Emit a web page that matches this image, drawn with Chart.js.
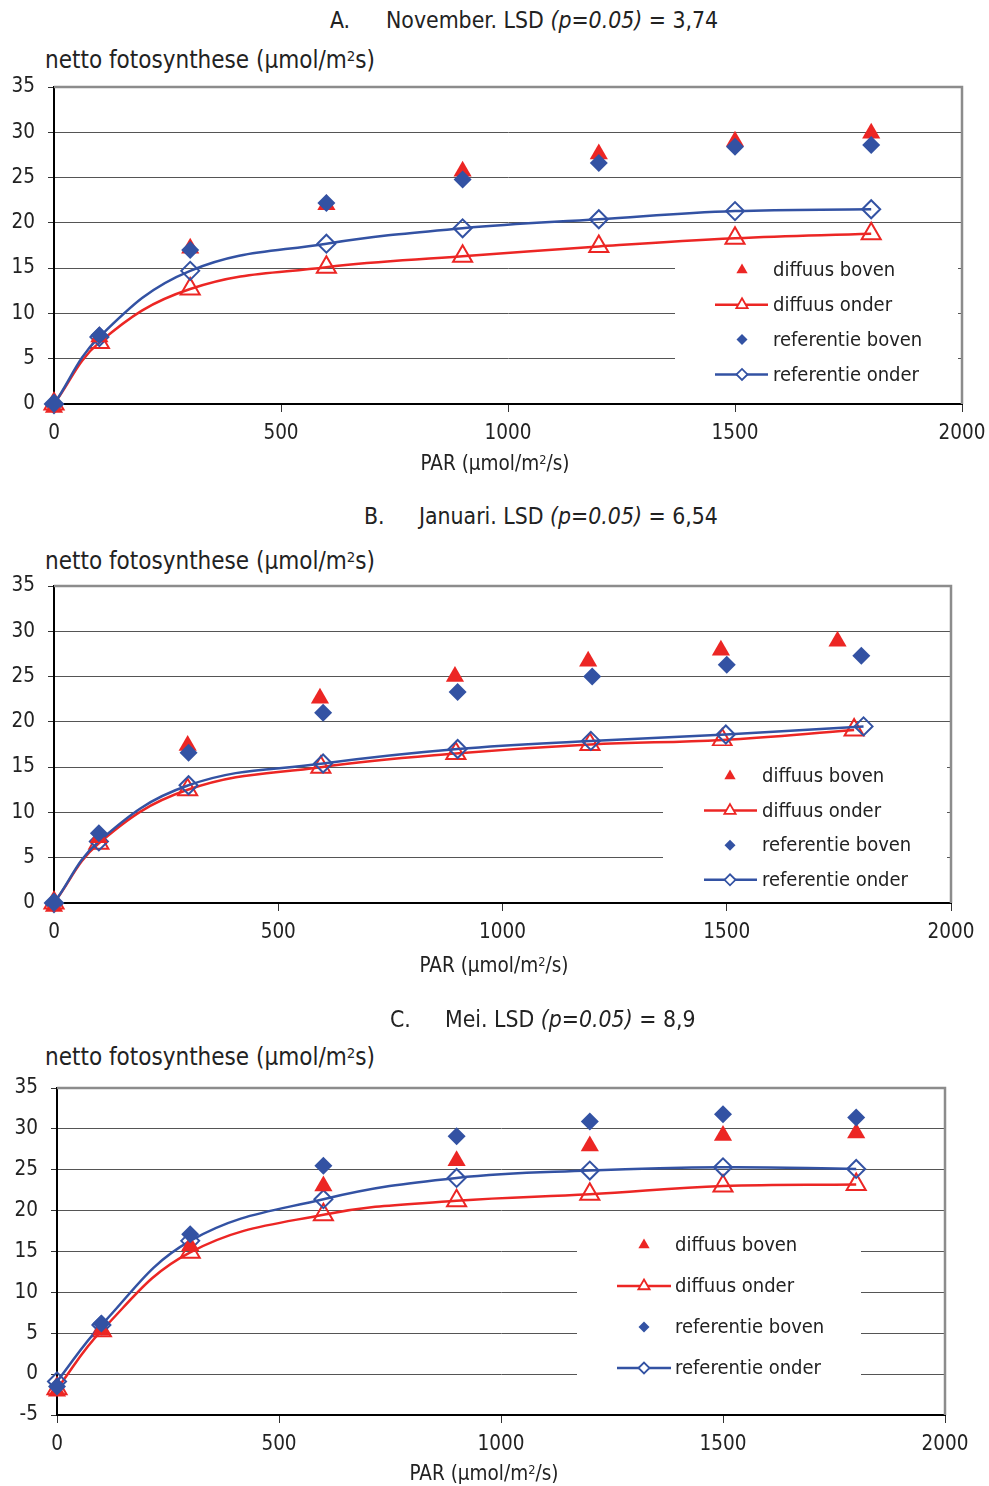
<!DOCTYPE html>
<html>
<head>
<meta charset="utf-8">
<script src="https://cdn.jsdelivr.net/npm/chart.js@4"></script>
<style>
  body { margin: 0; background: #fff; width: 989px; height: 1486px; position: relative; overflow: hidden;
         font-family: "DejaVu Sans Condensed", "DejaVu Sans", sans-serif; color: #222; }
  canvas { position: absolute; left: 0; }
  .t { position: absolute; white-space: nowrap; font-size: 22.8px; line-height: 24px; }
  .yl { position: absolute; white-space: nowrap; font-size: 24px; line-height: 26px; left: 45px; }
  .xl { position: absolute; white-space: nowrap; font-size: 20.5px; line-height: 24px; transform: translateX(-50%); }
  sup { font-size: 0.62em; vertical-align: 0.5em; line-height: 0; }
</style>
</head>
<body>

<div class="t" style="left:330px;top:8px">A.</div>
<div class="t" style="left:386px;top:8px">November. LSD <i>(p=0.05)</i> = 3,74</div>
<div class="yl" style="top:47px">netto fotosynthese (µmol/m<sup>2</sup>s)</div>
<canvas id="chartA" width="989" height="490" style="top:0"></canvas>
<div class="xl" style="left:495px;top:451px">PAR (µmol/m<sup>2</sup>/s)</div>

<div class="t" style="left:364px;top:504px">B.</div>
<div class="t" style="left:419px;top:504px">Januari. LSD <i>(p=0.05)</i> = 6,54</div>
<div class="yl" style="top:548px">netto fotosynthese (µmol/m<sup>2</sup>s)</div>
<canvas id="chartB" width="989" height="500" style="top:490px"></canvas>
<div class="xl" style="left:494px;top:953px">PAR (µmol/m<sup>2</sup>/s)</div>

<div class="t" style="left:390px;top:1007px">C.</div>
<div class="t" style="left:445px;top:1007px">Mei. LSD <i>(p=0.05)</i> = 8,9</div>
<div class="yl" style="top:1044px">netto fotosynthese (µmol/m<sup>2</sup>s)</div>
<canvas id="chartC" width="989" height="496" style="top:990px"></canvas>
<div class="xl" style="left:484px;top:1461px">PAR (µmol/m<sup>2</sup>/s)</div>

<script>
// PAR-niveaus (µmol/m2/s)
const parLevels = [0, 100, 300, 600, 900, 1200, 1500, 1800];

// A. November
const novDiffuusBoven = [-0.4, 7.4, 17.2, 22.0, 25.7, 27.6, 29.0, 29.9];
const novDiffuusOnder = [0, 6.8, 12.7, 15.1, 16.3, 17.4, 18.3, 18.8];
const novRefBoven = [0, 7.6, 17.0, 22.2, 24.8, 26.6, 28.4, 28.6];
const novRefOnder = [0, 7.4, 14.7, 17.7, 19.4, 20.4, 21.3, 21.5];

// B. Januari (gemeten PAR wijkt hier iets af per behandeling)
const janParDiffuusBoven = [0, 100, 298, 593, 894, 1191, 1487, 1747];
const janParDiffuusOnder = [0, 100, 298, 595, 896, 1195, 1490, 1784];
const janParRefOnder = [0, 100, 300, 600, 900, 1197, 1498, 1805];
const janDiffuusBoven = [-0.4, 7.2, 17.4, 22.6, 25.0, 26.7, 27.9, 28.9];
const janDiffuusOnder = [0, 6.6, 12.5, 15.0, 16.5, 17.5, 18.0, 19.1];
const janRefBoven = [0, 7.7, 16.6, 21.0, 23.3, 25.0, 26.3, 27.3];
const janRefOnder = [0, 6.8, 13.0, 15.4, 17.0, 17.9, 18.6, 19.5];

// C. Mei
const meiDiffuusBoven = [-2.1, 5.4, 15.7, 23.0, 26.1, 27.9, 29.2, 29.5];
const meiDiffuusOnder = [-1.8, 5.3, 14.9, 19.5, 21.2, 22.0, 23.0, 23.2];
const meiRefBoven = [-1.5, 6.2, 17.1, 25.5, 29.1, 30.9, 31.8, 31.4];
const meiRefOnder = [-0.9, 6.0, 16.3, 21.4, 24.0, 24.9, 25.3, 25.1];

const seriesLabels = ['diffuus boven', 'diffuus onder', 'referentie boven', 'referentie onder'];
const xTickStep = 500;
const yTickStep = 5;

const RED = 'rgb(236, 38, 36)';
const BLUE = 'rgb(51, 82, 163)';
const FONT = '"DejaVu Sans Condensed", "DejaVu Sans", sans-serif';

Chart.defaults.font.family = FONT;
Chart.defaults.color = '#222';

const pts = (xs, ys) => xs.map((x, i) => ({ x: x, y: ys[i] }));

function drawMarker(ctx, style, x, y, r, filled, color) {
  ctx.beginPath();
  if (style === 'triangle') {
    ctx.moveTo(x, y - r);
    ctx.lineTo(x + r * 0.866, y + r / 2);
    ctx.lineTo(x - r * 0.866, y + r / 2);
  } else {
    ctx.moveTo(x - r, y);
    ctx.lineTo(x, y - r);
    ctx.lineTo(x + r, y);
    ctx.lineTo(x, y + r);
  }
  ctx.closePath();
  if (filled) {
    ctx.fillStyle = color;
    ctx.fill();
  } else {
    ctx.fillStyle = '#fff';
    ctx.fill();
    ctx.strokeStyle = color;
    ctx.lineWidth = 1.8;
    ctx.stroke();
  }
}

// legenda binnen het plotvlak, met witte achtergrond over de rasterlijnen
const insideLegend = {
  id: 'insideLegend',
  afterDraw(chart, args, o) {
    const ctx = chart.ctx;
    ctx.save();
    ctx.fillStyle = '#fff';
    ctx.fillRect(o.x, o.y, o.w, o.h);
    ctx.font = '20px ' + FONT;
    ctx.textBaseline = 'middle';
    chart.data.datasets.forEach((ds, i) => {
      const y = o.row0 + i * o.gap;
      const color = ds.pointBorderColor || ds.backgroundColor;
      if (ds.showLine) {
        ctx.strokeStyle = ds.borderColor;
        ctx.lineWidth = 2.5;
        ctx.beginPath();
        ctx.moveTo(o.lineX1, y);
        ctx.lineTo(o.lineX2, y);
        ctx.stroke();
      }
      const r = ds.pointStyle === 'triangle' ? 6.5 : 5.5;
      drawMarker(ctx, ds.pointStyle, o.markerX, y, r, !ds.showLine, color);
      ctx.fillStyle = '#222';
      ctx.fillText(ds.label, o.textX, y + 1);
    });
    ctx.restore();
  }
};

// grijze rand boven en rechts van het plotvlak
const plotFrame = {
  id: 'plotFrame',
  afterDraw(chart) {
    const { ctx, chartArea: a } = chart;
    ctx.save();
    ctx.strokeStyle = '#8c8c8c';
    ctx.lineWidth = 2.5;
    ctx.beginPath();
    ctx.moveTo(a.left, a.top);
    ctx.lineTo(a.right, a.top);
    ctx.lineTo(a.right, a.bottom);
    ctx.stroke();
    ctx.restore();
  }
};

function makeDatasets(db, dOnder, rb, rOnder) {
  return [
    { label: seriesLabels[0], data: db, showLine: false, pointStyle: 'triangle', pointRadius: 10.5,
      backgroundColor: RED, borderColor: RED, pointBorderWidth: 0, clip: false, order: 1 },
    { label: seriesLabels[1], data: dOnder, showLine: true, borderColor: RED, borderWidth: 2.5, tension: 0.4,
      pointStyle: 'triangle', pointRadius: 11, pointBackgroundColor: 'rgba(255,255,255,0)',
      pointBorderColor: RED, pointBorderWidth: 2, clip: false, order: 3 },
    { label: seriesLabels[2], data: rb, showLine: false, pointStyle: 'rectRot', pointRadius: 9,
      backgroundColor: BLUE, borderColor: BLUE, pointBorderWidth: 0, clip: false, order: 0 },
    { label: seriesLabels[3], data: rOnder, showLine: true, borderColor: BLUE, borderWidth: 2.5, tension: 0.4,
      pointStyle: 'rectRot', pointRadius: 9, pointBackgroundColor: 'rgba(255,255,255,0)',
      pointBorderColor: BLUE, pointBorderWidth: 2, clip: false, order: 2 }
  ];
}

function makeChart(id, top, plot, yMin, datasets, lg) {
  const cv = document.getElementById(id);
  const h = cv.height;
  return new Chart(cv, {
    type: 'scatter',
    data: { datasets: datasets },
    options: {
      responsive: false,
      animation: false,
      events: [],
      layout: { padding: { top: plot.top - top, right: 989 - plot.right, left: 0, bottom: 0 } },
      plugins: {
        legend: { display: false },
        tooltip: { enabled: false },
        insideLegend: {
          x: lg.x, y: lg.y - top, w: lg.w, h: lg.h,
          row0: lg.row0 - top, gap: lg.gap,
          markerX: lg.markerX, lineX1: lg.lineX1, lineX2: lg.lineX2, textX: lg.textX
        }
      },
      scales: {
        x: {
          type: 'linear', min: 0, max: 2000,
          ticks: { stepSize: xTickStep, padding: 9, font: { size: 20.5 }, color: '#222', callback: v => String(v) },
          grid: { drawOnChartArea: false, drawTicks: true, tickLength: 8, tickColor: '#333', tickWidth: 1 },
          border: { color: '#000', width: 2 },
          afterFit: s => {
            s.height = h - (plot.bottom - top);
            // labels mogen buiten het plotvlak uitsteken
            s.paddingLeft = 0;
            s.paddingRight = 0;
          }
        },
        y: {
          type: 'linear', min: yMin, max: 35,
          ticks: { stepSize: yTickStep, padding: 13, font: { size: 20.5 }, color: '#222', callback: v => String(v) },
          grid: { color: '#555', lineWidth: 1, tickLength: 6, tickColor: '#333' },
          border: { color: '#000', width: 2 },
          afterFit: s => {
            s.width = plot.left;
            s.paddingTop = 0;
            s.paddingBottom = 0;
          }
        }
      }
    },
    plugins: [insideLegend, plotFrame]
  });
}

makeChart('chartA', 0, { left: 54, right: 962, top: 87, bottom: 404 }, 0,
  makeDatasets(pts(parLevels, novDiffuusBoven), pts(parLevels, novDiffuusOnder),
               pts(parLevels, novRefBoven), pts(parLevels, novRefOnder)),
  { x: 675, y: 248, w: 283, h: 152, row0: 270, gap: 34.8, markerX: 742, lineX1: 715, lineX2: 768, textX: 773 });

makeChart('chartB', 490, { left: 54, right: 951, top: 586, bottom: 903 }, 0,
  makeDatasets(pts(janParDiffuusBoven, janDiffuusBoven), pts(janParDiffuusOnder, janDiffuusOnder),
               pts(parLevels, janRefBoven), pts(janParRefOnder, janRefOnder)),
  { x: 663, y: 746, w: 284, h: 154, row0: 776, gap: 34.6, markerX: 730, lineX1: 704, lineX2: 757, textX: 762 });

makeChart('chartC', 990, { left: 57, right: 945, top: 1088, bottom: 1415 }, -5,
  makeDatasets(pts(parLevels, meiDiffuusBoven), pts(parLevels, meiDiffuusOnder),
               pts(parLevels, meiRefBoven), pts(parLevels, meiRefOnder)),
  { x: 577, y: 1222, w: 284, h: 188, row0: 1245, gap: 41, markerX: 644, lineX1: 617, lineX2: 671, textX: 675 });
</script>
</body>
</html>
